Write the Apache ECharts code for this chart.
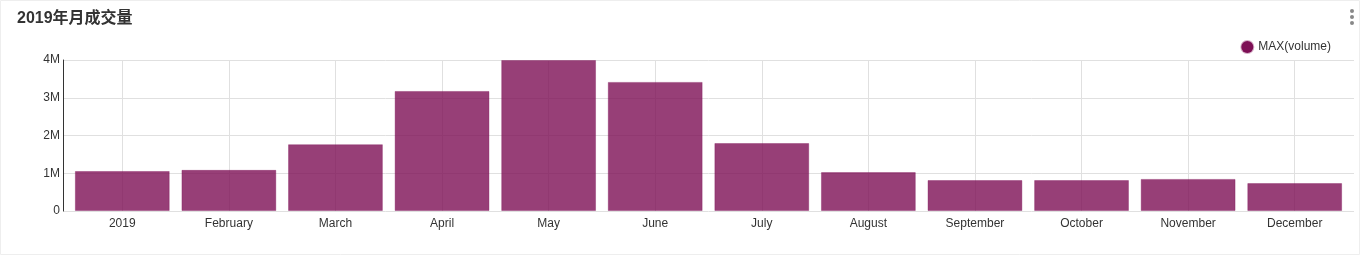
<!DOCTYPE html>
<html><head><meta charset="utf-8">
<script src="https://cdn.jsdelivr.net/npm/echarts@6/dist/echarts.min.js"></script>
<style>html,body{margin:0;padding:0;background:#fff}#c{width:1361px;height:256px}</style>
</head><body><div id="c"></div>
<script>
const categories = ['2019','February','March','April','May','June','July','August','September','October','November','December'];
const volume = [1060000,1090000,1770000,3180000,4000000,3420000,1800000,1030000,820000,820000,850000,740000];
const yTicks = ['0','1M','2M','3M','4M'];

const chart = echarts.init(document.getElementById('c'));
chart.setOption({
  animation:false,
  textStyle:{fontFamily:'Liberation Sans, Arial, sans-serif'},
  title:{text:'2019年月成交量',left:12,top:6,textStyle:{fontSize:16,fontWeight:'bold',color:'#333',fontFamily:'Liberation Sans, Noto Sans CJK SC, sans-serif'}},
  legend:{right:25,top:35,icon:'circle',itemWidth:12,itemHeight:12,itemGap:2,textStyle:{fontSize:12,color:'#333'},data:[{name:'MAX(volume)',itemStyle:{color:'#7d0f55'}}]},
  graphic:[
    {type:'rect',shape:{x:0.5,y:0.5,width:1359,height:254},style:{fill:'none',stroke:'#eeeeee',lineWidth:1},silent:true},
    {type:'circle',shape:{cx:1352,cy:11,r:2},style:{fill:'#888'}},
    {type:'circle',shape:{cx:1352,cy:17,r:2},style:{fill:'#888'}},
    {type:'circle',shape:{cx:1352,cy:23,r:2},style:{fill:'#888'}}
  ],
  grid:[{left:63,right:7,top:60,bottom:45},{left:69,right:13,top:60,bottom:45}],
  xAxis:[
    {type:'category',gridIndex:0,data:categories,show:false},
    {type:'category',gridIndex:1,data:categories,
    axisLine:{show:false},axisTick:{show:false},
    axisLabel:{fontSize:12,color:'#333',margin:7},
    splitLine:{show:true,alignWithLabel:true,lineStyle:{color:'#e0e0e0'}}}],
  yAxis:[
    {type:'value',gridIndex:0,min:0,max:4000000,interval:1000000,
    axisLine:{show:true,lineStyle:{color:'#333'}},
    axisTick:{show:false},
    axisLabel:{fontSize:12,color:'#333',margin:3,verticalAlign:'middle',lineHeight:14,padding:[2,0,0,0],formatter:(v)=>yTicks[Math.round(v/1000000)]},
    splitLine:{lineStyle:{color:'#e0e0e0'}}},
    {type:'value',gridIndex:1,min:0,max:4000000,interval:1000000,show:false,splitLine:{show:false}}],
  series:[{name:'MAX(volume)',type:'bar',xAxisIndex:1,yAxisIndex:1,data:volume,barCategoryGap:'11%',
    itemStyle:{color:'rgba(125,15,85,0.8)',borderColor:'rgba(125,15,85,0.35)',borderWidth:1}}]
});
</script></body></html>
